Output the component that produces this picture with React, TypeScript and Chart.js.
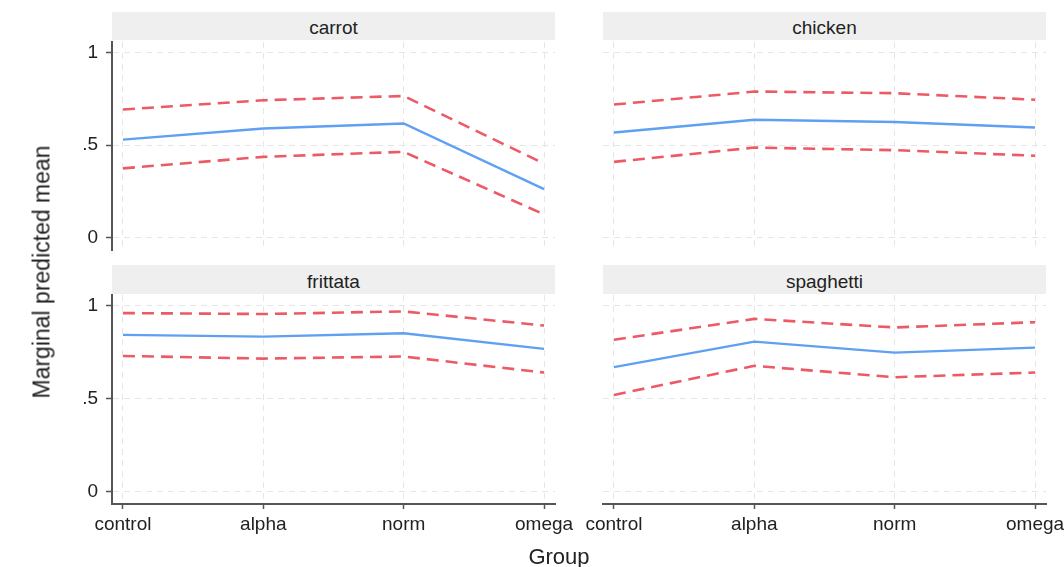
import React, { useEffect, useRef } from 'react';
import { Chart, registerables } from 'chart.js';

Chart.register(...registerables);

// ---------- data ----------
const groups = ['control', 'alpha', 'norm', 'omega'];
const foods = ['carrot', 'chicken', 'frittata', 'spaghetti'];

const carrotMean = [0.530, 0.590, 0.617, 0.263];
const carrotUpper = [0.692, 0.742, 0.765, 0.401];
const carrotLower = [0.375, 0.437, 0.464, 0.127];

const chickenMean = [0.568, 0.637, 0.625, 0.595];
const chickenUpper = [0.719, 0.789, 0.780, 0.745];
const chickenLower = [0.410, 0.487, 0.473, 0.443];

const frittataMean = [0.842, 0.833, 0.851, 0.767];
const frittataUpper = [0.959, 0.954, 0.968, 0.892];
const frittataLower = [0.729, 0.715, 0.726, 0.640];

const spaghettiMean = [0.669, 0.806, 0.747, 0.774];
const spaghettiUpper = [0.816, 0.928, 0.882, 0.910];
const spaghettiLower = [0.520, 0.676, 0.615, 0.640];

const yTickValues = [0, 0.5, 1];
const yTickLabels = ['0', '.5', '1'];

const yTitle = 'Marginal predicted mean';
const xTitle = 'Group';

// ---------- style ----------
const FONT = '"Liberation Sans", Arial, Helvetica, sans-serif';
const BLUE = '#5fa0f2';
const RED = '#ec5a65';
const GRID = '#e6e6e6';
const AXIS = '#555555';
const TEXT = '#222222';
const STRIP = '#efefef';

Chart.defaults.font.family = FONT;

type Spec = {
  title: string;
  mean: number[];
  upper: number[];
  lower: number[];
  showY: boolean;
  showX: boolean;
  canvas: { left: number; top: number; width: number; height: number };
  padding: { left: number; top: number; right: number; bottom: number };
  yW: number;
  xH: number;
  strip: { left: number; top: number; width: number; height: number };
};

const specs: Spec[] = [
  {
    title: foods[0], mean: carrotMean, upper: carrotUpper, lower: carrotLower,
    showY: true, showX: false,
    canvas: { left: 40, top: 30, width: 540, height: 230 },
    padding: { left: 0, top: 12, right: 25, bottom: 10 },
    yW: 72, xH: 0,
    strip: { left: 112, top: 12, width: 443, height: 28 },
  },
  {
    title: foods[1], mean: chickenMean, upper: chickenUpper, lower: chickenLower,
    showY: false, showX: false,
    canvas: { left: 575, top: 30, width: 489, height: 230 },
    padding: { left: 28, top: 12, right: 18, bottom: 10 },
    yW: 0, xH: 0,
    strip: { left: 603, top: 12, width: 443, height: 28 },
  },
  {
    title: foods[2], mean: frittataMean, upper: frittataUpper, lower: frittataLower,
    showY: true, showX: true,
    canvas: { left: 40, top: 285, width: 540, height: 264 },
    padding: { left: 0, top: 10, right: 25, bottom: 0 },
    yW: 72, xH: 45,
    strip: { left: 112, top: 265, width: 443, height: 29 },
  },
  {
    title: foods[3], mean: spaghettiMean, upper: spaghettiUpper, lower: spaghettiLower,
    showY: false, showX: true,
    canvas: { left: 575, top: 285, width: 489, height: 264 },
    padding: { left: 28, top: 10, right: 18, bottom: 0 },
    yW: 0, xH: 45,
    strip: { left: 603, top: 265, width: 443, height: 29 },
  },
];

function Panel({ spec }: { spec: Spec }) {
  const ref = useRef<HTMLCanvasElement>(null);
  useEffect(() => {
    if (!ref.current) return;
    const pts = (arr: number[]) => arr.map((v, i) => ({ x: i, y: v }));
    const chart = new Chart(ref.current, {
      type: 'line',
      data: {
        datasets: [
          {
            data: pts(spec.upper), borderColor: RED, borderWidth: 2.6,
            borderDash: [12, 7], pointRadius: 0, fill: false, tension: 0,
          },
          {
            data: pts(spec.lower), borderColor: RED, borderWidth: 2.6,
            borderDash: [12, 7], pointRadius: 0, fill: false, tension: 0,
          },
          {
            data: pts(spec.mean), borderColor: BLUE, borderWidth: 2.4,
            pointRadius: 0, fill: false, tension: 0,
          },
        ],
      },
      options: {
        animation: false,
        responsive: false,
        devicePixelRatio: 1,
        events: [],
        layout: { padding: spec.padding, autoPadding: false },
        plugins: {
          legend: { display: false },
          tooltip: { enabled: false },
          title: { display: false },
        },
        scales: {
          x: {
            type: 'linear',
            min: -0.078,
            max: 3.078,
            afterBuildTicks: (s: any) => {
              s.ticks = groups.map((_, i) => ({ value: i }));
            },
            afterFit: (s: any) => {
              s.height = spec.xH;
              s.paddingLeft = 0;
              s.paddingRight = 0;
            },
            ticks: {
              display: spec.showX,
              autoSkip: false,
              maxRotation: 0,
              padding: 4,
              color: TEXT,
              font: { size: 19, family: FONT },
              callback: (v: any) => groups[Math.round(Number(v))] ?? '',
            },
            grid: {
              color: GRID,
              lineWidth: 1,
              drawTicks: spec.showX,
              tickLength: 5,
              tickColor: AXIS,
              tickWidth: 1.5,
            },
            border: { display: spec.showX, color: AXIS, width: 2, dash: [6, 5] },
          },
          y: {
            type: 'linear',
            min: -0.065,
            max: 1.056,
            afterBuildTicks: (s: any) => {
              s.ticks = yTickValues.map((v) => ({ value: v }));
            },
            afterFit: (s: any) => {
              s.width = spec.yW;
              s.paddingTop = 0;
              s.paddingBottom = 0;
            },
            ticks: {
              display: spec.showY,
              padding: 8,
              color: TEXT,
              font: { size: 19, family: FONT },
              callback: (v: any) => {
                const idx = yTickValues.indexOf(Number(v));
                return idx >= 0 ? yTickLabels[idx] : '';
              },
            },
            grid: {
              color: GRID,
              lineWidth: 1,
              drawTicks: spec.showY,
              tickLength: 6,
              tickColor: AXIS,
              tickWidth: 1.5,
            },
            border: { display: spec.showY, color: AXIS, width: 2, dash: [6, 5] },
          },
        },
      } as any,
    });
    return () => chart.destroy();
  }, [spec]);

  const c = spec.canvas;
  const s = spec.strip;
  return (
    <>
      <div
        style={{
          position: 'absolute', left: s.left, top: s.top, width: s.width, height: s.height,
          background: STRIP, color: TEXT, fontFamily: FONT, fontSize: 19,
          lineHeight: `${s.height}px`, textAlign: 'center', paddingTop: 2, boxSizing: 'border-box',
        }}
      >
        {spec.title}
      </div>
      <canvas
        ref={ref}
        width={c.width}
        height={c.height}
        style={{ position: 'absolute', left: c.left, top: c.top, width: c.width, height: c.height }}
      />
    </>
  );
}

export default function App() {
  return (
    <div
      style={{
        position: 'absolute', left: 0, top: 0, width: 1064, height: 567,
        background: '#ffffff', overflow: 'hidden',
      }}
    >
      {specs.map((sp) => (
        <Panel key={sp.title} spec={sp} />
      ))}
      <div
        style={{
          position: 'absolute', left: 42, top: 272, transform: 'translate(-50%, -50%) rotate(-90deg)',
          whiteSpace: 'nowrap', fontFamily: FONT, fontSize: 23, color: TEXT, lineHeight: '23px',
        }}
      >
        {yTitle}
      </div>
      <div
        style={{
          position: 'absolute', left: 559, top: 546, transform: 'translateX(-50%)',
          whiteSpace: 'nowrap', fontFamily: FONT, fontSize: 22, color: TEXT, lineHeight: '22px',
        }}
      >
        {xTitle}
      </div>
    </div>
  );
}
